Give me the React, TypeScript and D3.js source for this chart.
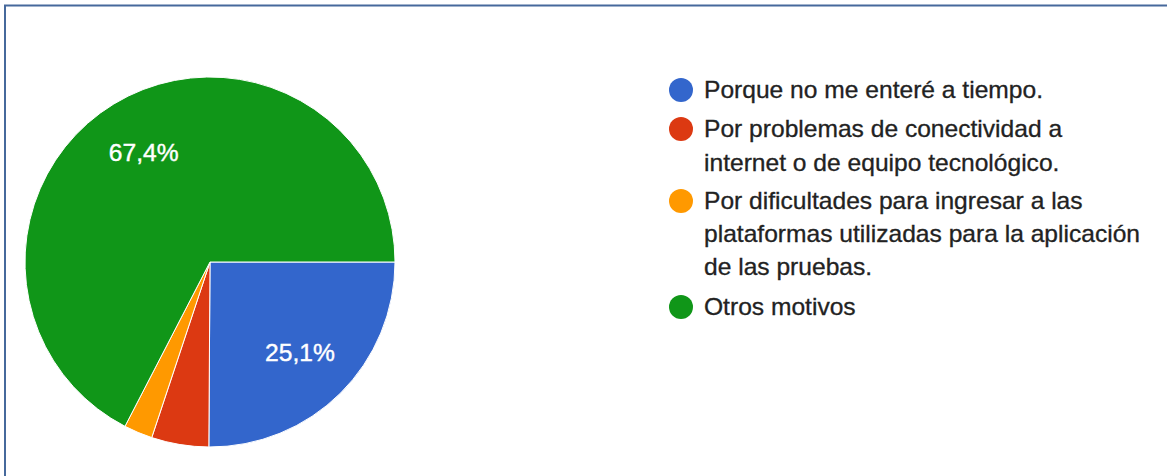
import React, { useRef, useEffect } from 'react';
import * as d3 from 'd3';

const categories = [
  'Porque no me enteré a tiempo.',
  'Por problemas de conectividad a internet o de equipo tecnológico.',
  'Por dificultades para ingresar a las plataformas utilizadas para la aplicación de las pruebas.',
  'Otros motivos',
];
const legendLines = [
  ['Porque no me enteré a tiempo.'],
  ['Por problemas de conectividad a', 'internet o de equipo tecnológico.'],
  ['Por dificultades para ingresar a las', 'plataformas utilizadas para la aplicación', 'de las pruebas.'],
  ['Otros motivos'],
];
const values = [25.1, 5.0, 2.5, 67.4];
const colors = ['#3366cc', '#dc3912', '#ff9900', '#109618'];

const width = 1167;
const height = 476;

const App = () => {
  const svgRef = useRef<SVGSVGElement>(null);

  useEffect(() => {
    const svg = d3.select(svgRef.current);
    svg.selectAll('*').remove();

    svg.append('rect').attr('width', width).attr('height', height).attr('fill', '#fff');

    // frame lines (top and left)
    svg.append('line').attr('x1', 4).attr('x2', width).attr('y1', 5.5).attr('y2', 5.5)
      .attr('stroke', '#46699c').attr('stroke-width', 2);
    svg.append('line').attr('x1', 5).attr('x2', 5).attr('y1', 5).attr('y2', height)
      .attr('stroke', '#46699c').attr('stroke-width', 2);

    const cx = 210, cy = 262, r = 185;
    const g = svg.append('g').attr('transform', `translate(${cx},${cy})`);

    const pie = d3.pie<number>().sort(null).startAngle(Math.PI / 2).endAngle(Math.PI / 2 + 2 * Math.PI);
    const arcs = pie(values);
    const arc = d3.arc<d3.PieArcDatum<number>>().innerRadius(0).outerRadius(r);

    g.selectAll('path')
      .data(arcs)
      .enter()
      .append('path')
      .attr('d', arc)
      .attr('fill', (d, i) => colors[i])
      .attr('stroke', '#fff')
      .attr('stroke-width', 1);

    // percentage labels for big slices
    const labelArc = d3.arc<d3.PieArcDatum<number>>().innerRadius(r * 0.69).outerRadius(r * 0.69);
    g.selectAll('text.pct')
      .data(arcs.filter(d => d.data > 10))
      .enter()
      .append('text')
      .attr('class', 'pct')
      .attr('transform', d => `translate(${labelArc.centroid(d)}) scale(1.07,1)`)
      .attr('text-anchor', 'middle')
      .attr('dy', '0.36em')
      .attr('fill', '#fff')
      .attr('stroke', '#fff')
      .attr('stroke-width', 0.4)
      .style('font-family', 'Arial, "Liberation Sans", sans-serif')
      .style('font-size', '23px')
      .text(d => d.data.toFixed(1).replace('.', ',') + '%');

    // legend
    const legend = svg.append('g').attr('transform', 'translate(681,0)');
    const baselines = [[98], [137, 171], [209, 242, 275], [315]];
    legendLines.forEach((lines, i) => {
      legend.append('circle')
        .attr('cx', 0)
        .attr('cy', baselines[i][0] - 8)
        .attr('r', 12)
        .attr('fill', colors[i]);
      lines.forEach((line, j) => {
        legend.append('text')
          .attr('transform', `translate(23,${baselines[i][j]}) scale(1.07,1)`)
          .attr('fill', '#222')
          .attr('stroke', '#222')
          .attr('stroke-width', 0.3)
          .style('font-family', 'Arial, "Liberation Sans", sans-serif')
          .style('font-size', '23px')
          .text(line);
      });
    });
  }, []);

  return (
    <div style={{ position: 'absolute', left: 0, top: 0 }}>
      <svg ref={svgRef} width={width} height={height} style={{ display: 'block' }} aria-label={categories.join('; ')} />
    </div>
  );
};

export default App;
